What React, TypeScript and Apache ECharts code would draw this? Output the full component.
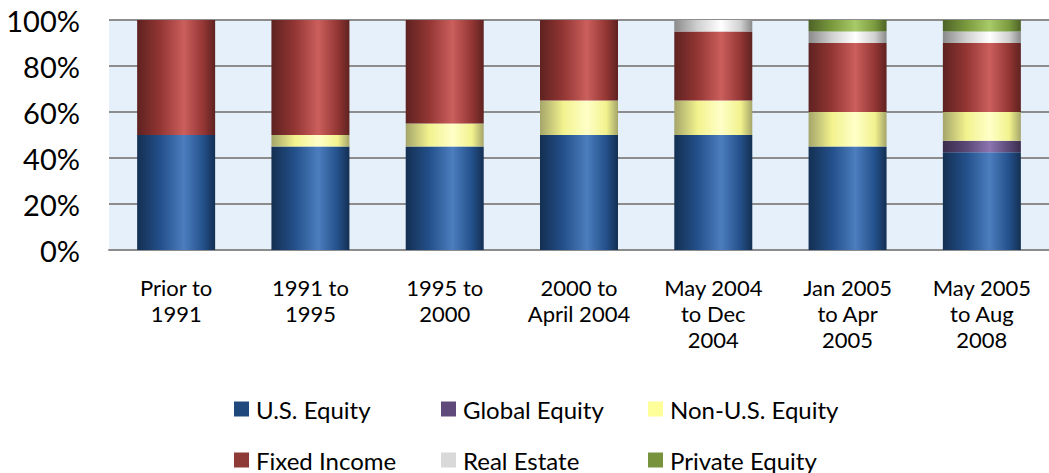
import React, { useEffect, useRef } from "react";
import * as echarts from "echarts";

const categories = [
  "Prior to\n1991",
  "1991 to\n1995",
  "1995 to\n2000",
  "2000 to\nApril 2004",
  "May 2004\nto Dec\n2004",
  "Jan 2005\nto Apr\n2005",
  "May 2005\nto Aug\n2008",
];
const usEquity = [50, 45, 45, 50, 50, 45, 42.5];
const globalEquity = [0, 0, 0, 0, 0, 0, 5];
const nonUsEquity = [0, 5, 10, 15, 15, 15, 12.5];
const fixedIncome = [50, 50, 45, 35, 30, 30, 30];
const realEstate = [0, 0, 0, 0, 5, 5, 5];
const privateEquity = [0, 0, 0, 0, 0, 5, 5];
const yTicks = [0, 20, 40, 60, 80, 100];

const FONT = "Lato, 'Open Sans', sans-serif";

function grad(edge: string, mid: string, light: string) {
  return new echarts.graphic.LinearGradient(0, 0, 1, 0, [
    { offset: 0, color: edge },
    { offset: 0.3, color: mid },
    { offset: 0.6, color: light },
    { offset: 0.85, color: mid },
    { offset: 1, color: edge },
  ]);
}

const seriesDefs = [
  { name: "U.S. Equity", data: usEquity, fill: grad("#142F52", "#23508A", "#4C7DBE"), icon: "#1F497D" },
  { name: "Global Equity", data: globalEquity, fill: grad("#3A2C4C", "#5A4775", "#8C75B0"), icon: "#604A7B" },
  { name: "Non-U.S. Equity", data: nonUsEquity, fill: grad("#A5A56A", "#F2F28E", "#FFFFC8"), icon: "#FFFF99" },
  { name: "Fixed Income", data: fixedIncome, fill: grad("#5E2220", "#933634", "#CB5F5C"), icon: "#8E3B38" },
  { name: "Real Estate", data: realEstate, fill: grad("#8A8A8A", "#D0D0D0", "#FFFFFF"), icon: "#D9D9D9" },
  { name: "Private Equity", data: privateEquity, fill: grad("#4D6327", "#7A9A3E", "#A9CA68"), icon: "#77933C" },
];

const legendPos = [
  { left: 234, top: 397 },
  { left: 441, top: 397 },
  { left: 648, top: 397 },
  { left: 234, top: 448 },
  { left: 441, top: 448 },
  { left: 648, top: 448 },
];

export default function App() {
  const ref = useRef<HTMLDivElement>(null);
  useEffect(() => {
    if (!ref.current) return;
    const chart = echarts.init(ref.current, null, { renderer: "svg" });
    chart.setOption({
      animation: false,
      backgroundColor: "#ffffff",
      textStyle: { fontFamily: FONT },
      grid: {
        left: 109,
        top: 20,
        width: 949,
        height: 230,
        show: true,
        backgroundColor: "#E6F0FB",
        borderWidth: 0,
      },
      xAxis: {
        type: "category",
        data: categories,
        axisLine: { show: true, lineStyle: { color: "#8C8C8C", width: 2 } },
        axisTick: { show: false },
        axisLabel: {
          color: "#000",
          fontSize: 22,
          lineHeight: 26,
          margin: 24,
          fontFamily: FONT,
          interval: 0,
        },
      },
      yAxis: {
        type: "value",
        min: 0,
        max: 100,
        interval: 20,
        axisLine: { show: false },
        axisTick: { show: false },
        splitLine: { show: true, lineStyle: { color: "#8C8C8C", width: 2 } },
        axisLabel: {
          color: "#000",
          fontSize: 29,
          margin: 29,
          fontFamily: FONT,
          formatter: (v: number) => (yTicks.includes(v) ? v + "%" : ""),
        },
      },
      legend: seriesDefs.map((s, i) => ({
        data: [{ name: s.name, itemStyle: { color: s.icon } }],
        left: legendPos[i].left,
        top: legendPos[i].top,
        padding: 0,
        itemWidth: 15,
        itemHeight: 15,
        itemGap: 6,
        icon: "rect",
        selectedMode: false,
        textStyle: { fontSize: 24, color: "#000", fontFamily: FONT, padding: [0, 0, 0, 2] },
      })),
      series: seriesDefs.map((s) => ({
        name: s.name,
        type: "bar",
        stack: "total",
        barWidth: 78,
        data: s.data,
        itemStyle: { color: s.fill },
      })),
    });
    return () => chart.dispose();
  }, []);
  return (
    <div
      ref={ref}
      style={{ position: "fixed", left: 0, top: 0, width: 1049, height: 473 }}
    />
  );
}
